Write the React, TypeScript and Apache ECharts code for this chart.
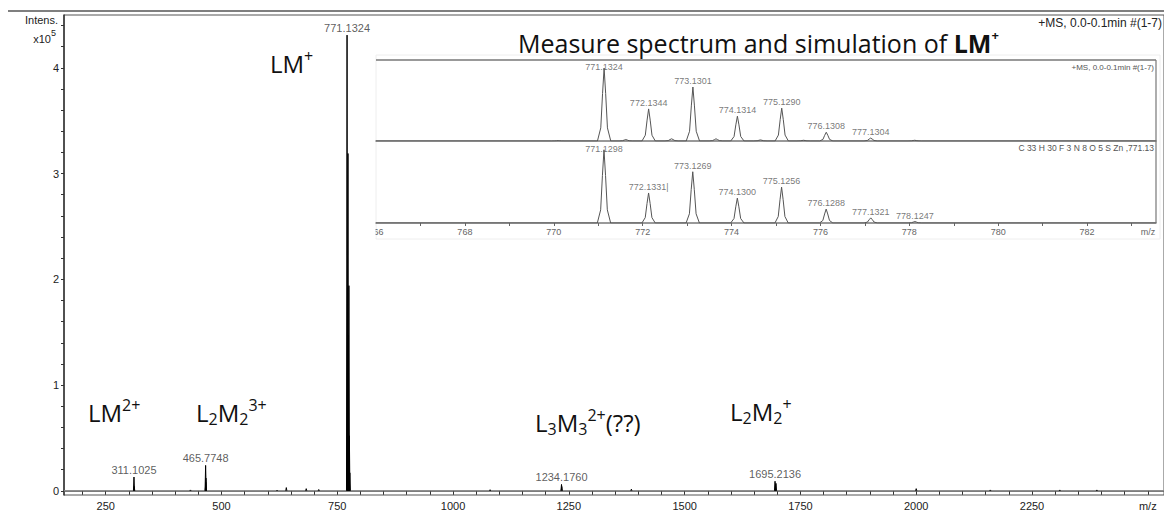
import React, { useEffect, useRef } from "react";
import * as echarts from "echarts";

// ---------- Main spectrum (intensity in units of 1e5) ----------
const MAIN_PEAK_MZ = [311.1025, 311.6, 433, 465.7748, 466.11, 466.44, 620, 640, 683, 710,
  771.1324, 772.1344, 773.1301, 774.1314, 775.129, 776.1308, 777.1304,
  1080, 1234.176, 1234.68, 1385, 1695.2136, 1696.21, 1697.21, 2000, 2160, 2310, 2390];
const MAIN_PEAK_INT = [0.13, 0.04, 0.008, 0.24, 0.08, 0.12, 0.006, 0.03, 0.02, 0.012,
  4.31, 1.92, 3.19, 1.47, 1.94, 0.52, 0.17,
  0.01, 0.06, 0.04, 0.015, 0.09, 0.06, 0.07, 0.02, 0.008, 0.008, 0.008];
const MAIN_PEAK_LABEL = ["311.1025", "", "", "465.7748", "", "", "", "", "", "",
  "771.1324", "", "", "", "", "", "",
  "", "1234.1760", "", "", "1695.2136", "", "", "", "", "", ""];
const MAIN_X_LABELS = [250, 500, 750, 1000, 1250, 1500, 1750, 2000, 2250, 2500];
const MAIN_X_TICKS = [200, 250, 300, 350, 400, 450, 500, 550, 600, 650, 700, 750, 800, 850, 900, 950,
  1000, 1050, 1100, 1150, 1200, 1250, 1300, 1350, 1400, 1450, 1500, 1550, 1600, 1650, 1700, 1750,
  1800, 1850, 1900, 1950, 2000, 2050, 2100, 2150, 2200, 2250, 2300, 2350, 2400, 2450, 2500];
const MAIN_Y_LABELS = [0, 1, 2, 3, 4];
const MAIN_Y_TICKS = [0, 0.2, 0.4, 0.6, 0.8, 1, 1.2, 1.4, 1.6, 1.8, 2, 2.2, 2.4, 2.6, 2.8, 3,
  3.2, 3.4, 3.6, 3.8, 4, 4.2, 4.4];

// ---------- Inset: measured (upper) ----------
const MEAS_MZ = [770.1, 771.1324, 771.62, 772.1344, 772.65, 773.1301, 773.65, 774.1314, 774.65,
  775.129, 775.62, 776.1308, 777.1304, 778.12];
const MEAS_REL = [0.5, 100, 2, 44, 3, 74, 3, 34, 1.5, 45, 1, 12, 4, 1];
const MEAS_LABEL = ["", "771.1324", "", "772.1344", "", "773.1301", "", "774.1314", "",
  "775.1290", "", "776.1308", "777.1304", ""];

// ---------- Inset: simulation (lower) ----------
const SIM_MZ = [771.1298, 772.1331, 773.1269, 774.13, 775.1256, 776.1288, 777.1321, 778.1247];
const SIM_REL = [100, 41, 70, 34, 49, 19, 7, 2];
const SIM_LABEL = ["771.1298", "772.1331|", "773.1269", "774.1300", "775.1256", "776.1288",
  "777.1321", "778.1247"];
const INSET_X_LABELS = [766, 768, 770, 772, 774, 776, 778, 780, 782];
const INSET_X_TICKS = [767, 768, 769, 770, 771, 772, 773, 774, 775, 776, 777, 778, 779, 780, 781, 782, 783];

// peak drawing profile (shape only)
const INSET_PROFILE_DX = [-0.15, -0.075, -0.035, 0, 0.035, 0.075, 0.15];
const INSET_PROFILE_F = [0, 0.18, 0.65, 1, 0.65, 0.18, 0];
const MAIN_HALF_WIDTH = 1.2;

const FONT = "Liberation Sans, Arial, sans-serif";
const ANN_FONT = "Open Sans, Lato, sans-serif";

function buildMainPeaks() {
  const d: any[] = [];
  MAIN_PEAK_MZ.forEach((m, i) => {
    const h = MAIN_PEAK_INT[i];
    d.push([m - MAIN_HALF_WIDTH, 0], [m, h], [m + MAIN_HALF_WIDTH, 0], [m + MAIN_HALF_WIDTH, "-"]);
  });
  return d;
}

function buildInset(mz: number[], rel: number[], lo: number, hi: number) {
  const d: any[] = [[lo, 0]];
  mz.forEach((m, i) => {
    INSET_PROFILE_DX.forEach((dx, k) => d.push([m + dx, rel[i] * INSET_PROFILE_F[k]]));
  });
  d.push([hi, 0]);
  return d;
}

function labelPoints(mz: number[], val: number[], labels: string[], fullScale?: number) {
  const d: any[] = [];
  mz.forEach((m, i) => {
    if (!labels[i]) return;
    const item: any = { value: [m, val[i]], name: labels[i] };
    // labels of the tallest inset peaks are kept inside their panel
    if (fullScale !== undefined && val[i] >= fullScale) item.label = { offset: [0, 5] };
    d.push(item);
  });
  return d;
}

export default function App() {
  const ref = useRef<HTMLDivElement>(null);
  useEffect(() => {
    if (!ref.current) return;
    const chart = echarts.init(ref.current, null, { renderer: "svg" });
    const insetMin = 766;
    const insetMax = 783.55;

    const mk = (size: number, subSize: number) => ({
      m: { fontSize: size, fontFamily: ANN_FONT, color: "#111", lineHeight: 30, verticalAlign: "middle" },
      sub: { fontSize: subSize, fontFamily: ANN_FONT, color: "#111", lineHeight: subSize, verticalAlign: "bottom" },
      sup: { fontSize: subSize, fontFamily: ANN_FONT, color: "#111", lineHeight: subSize, verticalAlign: "top" },
      b: { fontSize: size, fontFamily: ANN_FONT, color: "#111", lineHeight: 30, fontWeight: "bold", verticalAlign: "middle" },
      bsup: { fontSize: subSize - 2, fontFamily: ANN_FONT, color: "#111", lineHeight: subSize, fontWeight: "bold", verticalAlign: "top" },
    });
    const ann = (x: number, y: number, text: string, size = 24, subSize = 15) => ({
      type: "text", x, y, z: 20,
      style: { text, rich: mk(size, subSize), fill: "#111", font: `${size}px ${ANN_FONT}`, verticalAlign: "top", align: "left" },
    });

    const option: any = {
      animation: false,
      backgroundColor: "#fff",
      grid: [
        { left: 64, top: 15, width: 1100, height: 480, show: true, borderColor: "#555", borderWidth: 1 },
        { left: 376, top: 60, width: 780, height: 81 },
        { left: 376, top: 141, width: 780, height: 82 },
      ],
      xAxis: [
        {
          type: "value", gridIndex: 0, min: 160, max: 2535,
          axisLine: { show: true, lineStyle: { color: "#444", width: 1.5 } },
          axisTick: { show: true, length: 4, customValues: MAIN_X_TICKS, lineStyle: { color: "#333" } },
          axisLabel: {
            customValues: MAIN_X_LABELS, margin: 5, fontSize: 11, fontFamily: FONT, color: "#222",
            formatter: (v: number) => (v === 2500 ? "m/z" : String(v)),
          },
          splitLine: { show: false },
        },
        {
          type: "value", gridIndex: 1, min: insetMin, max: insetMax,
          axisLine: { show: true, lineStyle: { color: "#777", width: 1.5 } },
          axisTick: { show: false }, axisLabel: { show: false }, splitLine: { show: false },
        },
        {
          type: "value", gridIndex: 2, min: insetMin, max: insetMax,
          axisLine: { show: true, lineStyle: { color: "#777", width: 1.5 } },
          axisTick: { show: true, length: 3, customValues: INSET_X_TICKS, lineStyle: { color: "#666" } },
          axisLabel: { customValues: INSET_X_LABELS, margin: 4, fontSize: 9, fontFamily: FONT, color: "#666" },
          splitLine: { show: false },
        },
      ],
      yAxis: [
        {
          type: "value", gridIndex: 0, min: -0.04, max: 4.5,
          axisLine: { show: true, lineStyle: { color: "#333", width: 1.5 } },
          axisTick: { show: true, length: 3, customValues: MAIN_Y_TICKS, lineStyle: { color: "#333" } },
          axisLabel: { customValues: MAIN_Y_LABELS, margin: 5, fontSize: 11, fontFamily: FONT, color: "#222" },
          splitLine: { show: false },
        },
        { type: "value", gridIndex: 1, min: 0, max: 111, show: false, splitLine: { show: false } },
        { type: "value", gridIndex: 2, min: 0, max: 112, show: false, splitLine: { show: false } },
      ],
      series: [
        {
          type: "line", xAxisIndex: 0, yAxisIndex: 0, data: [[160, 0], [2535, 0]],
          symbol: "none", lineStyle: { color: "#999", width: 1 }, silent: true,
        },
        {
          type: "line", xAxisIndex: 0, yAxisIndex: 0, data: buildMainPeaks(), connectNulls: false,
          symbol: "none", lineStyle: { color: "#000", width: 1 }, silent: true, z: 3,
        },
        {
          type: "scatter", xAxisIndex: 0, yAxisIndex: 0, symbolSize: 1, silent: true,
          itemStyle: { color: "rgba(0,0,0,0)" },
          data: labelPoints(MAIN_PEAK_MZ, MAIN_PEAK_INT, MAIN_PEAK_LABEL),
          label: { show: true, position: "top", distance: 1, formatter: "{b}", fontSize: 11, fontFamily: FONT, color: "#333" },
        },
        {
          type: "line", xAxisIndex: 1, yAxisIndex: 1, data: buildInset(MEAS_MZ, MEAS_REL, insetMin, insetMax),
          symbol: "none", lineStyle: { color: "#555", width: 1 }, silent: true,
        },
        {
          type: "scatter", xAxisIndex: 1, yAxisIndex: 1, symbolSize: 1, silent: true,
          itemStyle: { color: "rgba(0,0,0,0)" },
          data: labelPoints(MEAS_MZ, MEAS_REL, MEAS_LABEL, 100),
          label: { show: true, position: "top", distance: 1, formatter: "{b}", fontSize: 9, fontFamily: FONT, color: "#555" },
        },
        {
          type: "line", xAxisIndex: 2, yAxisIndex: 2, data: buildInset(SIM_MZ, SIM_REL, insetMin, insetMax),
          symbol: "none", lineStyle: { color: "#555", width: 1 }, silent: true,
        },
        {
          type: "scatter", xAxisIndex: 2, yAxisIndex: 2, symbolSize: 1, silent: true,
          itemStyle: { color: "rgba(0,0,0,0)" },
          data: labelPoints(SIM_MZ, SIM_REL, SIM_LABEL, 100),
          label: { show: true, position: "top", distance: 1, formatter: "{b}", fontSize: 9, fontFamily: FONT, color: "#555" },
        },
      ],
      graphic: [
        { type: "line", z: 5, shape: { x1: 8, y1: 11, x2: 1164, y2: 11 }, style: { stroke: "#555", lineWidth: 1.5 } },
        {
          type: "text", x: 58, y: 14, z: 5,
          style: { text: "Intens.", font: `11px ${FONT}`, fill: "#222", align: "right", verticalAlign: "top" },
        },
        {
          type: "text", x: 56, y: 28, z: 5,
          style: {
            text: "{a|x10}{s|5}", align: "right", verticalAlign: "top",
            rich: {
              a: { fontSize: 11, fontFamily: FONT, fill: "#222", lineHeight: 16, verticalAlign: "bottom" },
              s: { fontSize: 9, fontFamily: FONT, fill: "#222", lineHeight: 10, verticalAlign: "top" },
            },
          },
        },
        {
          type: "text", x: 1162, y: 17, z: 5,
          style: { text: "+MS, 0.0-0.1min #(1-7)", font: `12px ${FONT}`, fill: "#222", align: "right", verticalAlign: "top" },
        },
        // inset frame
        { type: "rect", z: -10, shape: { x: 376, y: 55, width: 784, height: 184 }, style: { fill: "#fff", stroke: "#eeeeee", lineWidth: 1 } },
        { type: "line", z: 5, shape: { x1: 376, y1: 60, x2: 1156, y2: 60 }, style: { stroke: "#777", lineWidth: 1.5 } },
        { type: "line", z: 5, shape: { x1: 1156, y1: 60, x2: 1156, y2: 223 }, style: { stroke: "#777", lineWidth: 1.2 } },
        { type: "rect", z: 30, shape: { x: 364, y: 226, width: 11.5, height: 12 }, style: { fill: "#fff" } },
        {
          type: "text", x: 1154, y: 63, z: 5,
          style: { text: "+MS, 0.0-0.1min #(1-7)", font: `8px ${FONT}`, fill: "#555", align: "right", verticalAlign: "top" },
        },
        {
          type: "text", x: 1154, y: 143, z: 5,
          style: { text: "C 33 H 30 F 3 N 8 O 5 S Zn ,771.13", font: `8.5px ${FONT}`, fill: "#555", align: "right", verticalAlign: "top" },
        },
        {
          type: "text", x: 1148, y: 227, z: 5,
          style: { text: "m/z", font: `9px ${FONT}`, fill: "#666", align: "center", verticalAlign: "top" },
        },
        // annotations
        ann(518, 28, "{m|Measure spectrum and simulation of }{b|LM}{bsup|+}", 25, 15),
        ann(270, 48, "{m|LM}{sup|+}", 24, 16),
        ann(88, 397, "{m|LM}{sup|2+}", 24, 16),
        ann(196, 397, "{m|L}{sub|2}{m|M}{sub|2}{sup|3+}", 24, 16),
        ann(535, 407, "{m|L}{sub|3}{m|M}{sub|3}{sup|2+}{m|(??)}", 24, 16),
        ann(730, 396, "{m|L}{sub|2}{m|M}{sub|2}{sup|+}", 24, 16),
      ],
    };
    chart.setOption(option);
    return () => chart.dispose();
  }, []);
  return (
    <div
      ref={ref}
      style={{ position: "absolute", left: 0, top: 0, width: 1164, height: 515, background: "#fff" }}
    />
  );
}
